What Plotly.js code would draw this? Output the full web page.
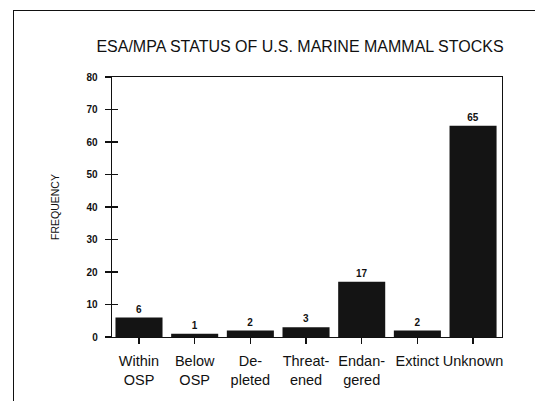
<!DOCTYPE html>
<html><head><meta charset="utf-8">
<script src="https://cdn.plot.ly/plotly-3.0.1.min.js"></script>
<style>
html,body{margin:0;padding:0;background:#fff;overflow:hidden}
#wrap{position:relative;width:535px;height:401px;overflow:hidden}
#c{width:535px;height:401px}
#frame{position:absolute;left:13px;top:10px;width:600px;height:500px;border-left:1.5px solid #111;border-top:1.5px solid #111;pointer-events:none;z-index:5}
</style>
</head><body><div id="wrap"><div id="c"></div><div id="frame"></div></div>
<script>
const categories = ["Within<br>OSP", "Below<br>OSP", "De-<br>pleted", "Threat-<br>ened", "Endan-<br>gered", "Extinct", "Unknown"];
const frequency = [6, 1, 2, 3, 17, 2, 65];
const yTicks = [0, 10, 20, 30, 40, 50, 60, 70, 80];

const W = 535, H = 401, L = 112, R = 33, T = 77, B = 64;
const pw = W - L - R, ph = H - T - B;
const px = v => (v - L) / pw, py = v => (H - B - v) / ph;

const trace = {
  type: 'bar', x: categories.map((c, i) => i), y: frequency,
  marker: {color: '#141414', line: {width: 0}},
  width: 0.845,
  text: frequency.map(String), textposition: 'outside', cliponaxis: false,
  textfont: {family: 'Liberation Sans, Arial', size: 10, color: '#111', weight: 'bold'},
  hoverinfo: 'none'
};
const trace2 = {type: 'scatter', x: [0], y: [0], yaxis: 'y2', mode: 'none', showlegend: false, hoverinfo: 'none'};

const layout = {
  width: W, height: H, margin: {l: L, r: R, t: T, b: B},
  paper_bgcolor: '#fff', plot_bgcolor: '#fff', showlegend: false,
  title: {text: 'ESA/MPA STATUS OF U.S. MARINE MAMMAL STOCKS', x: 300 / W, xanchor: 'center', xref: 'container',
          y: 1 - 46 / H, yanchor: 'middle', yref: 'container',
          font: {family: 'Liberation Sans, Arial', size: 16, color: '#111'}},
  xaxis: {range: [-0.485, 6.52], tickmode: 'array', tickvals: categories.map((c, i) => i), ticktext: categories,
          tickangle: 0, automargin: false,
          ticks: 'outside', ticklen: 6, tickwidth: 1.3, tickcolor: '#111',
          showline: true, linecolor: '#111', linewidth: 1.3, mirror: true, showgrid: false, zeroline: false,
          tickfont: {family: 'Liberation Sans, Arial', size: 14.5, color: '#111'}, ticklabelstandoff: 4, fixedrange: true},
  yaxis: {range: [0, 80], tickmode: 'array', tickvals: yTicks, ticks: 'outside', ticklen: 6, tickwidth: 1.3, tickcolor: '#111',
          showline: true, linecolor: '#111', linewidth: 1.3, mirror: true, showgrid: false, zeroline: false, automargin: false,
          tickfont: {family: 'Liberation Sans, Arial', size: 10, color: '#111', weight: 'bold'}, ticklabelstandoff: 5, fixedrange: true},
  yaxis2: {range: [0, 80], overlaying: 'y', side: 'left', tickmode: 'array', tickvals: yTicks, ticks: 'inside', ticklen: 6,
           tickwidth: 1.3, tickcolor: '#111', showticklabels: false, showline: false, showgrid: false, zeroline: false, fixedrange: true},
  annotations: [{text: 'FREQUENCY', xref: 'paper', yref: 'paper', x: px(55), y: py(207), textangle: -90,
                 showarrow: false, xanchor: 'center', yanchor: 'middle',
                 font: {family: 'Liberation Sans, Arial', size: 10.5, color: '#111'}}]
};
Plotly.newPlot('c', [trace, trace2], layout, {displayModeBar: false, staticPlot: true});
</script></body></html>
